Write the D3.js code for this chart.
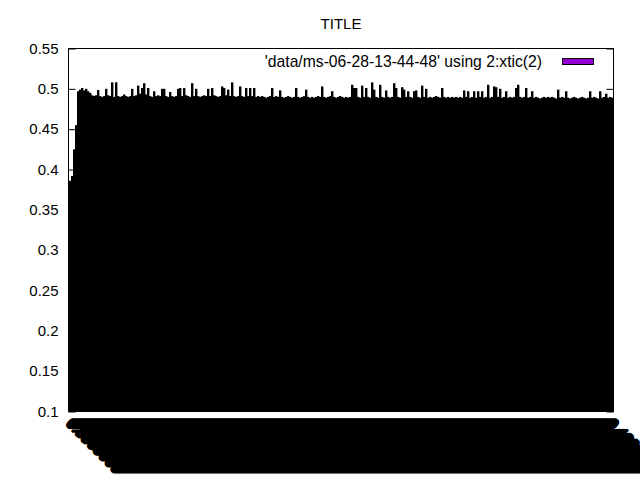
<!DOCTYPE html>
<html>
<head>
<meta charset="utf-8">
<script src="https://cdn.jsdelivr.net/npm/d3@7"></script>
<style>
  body { margin: 0; background: #fff; }
  svg { display: block; font-family: "Liberation Sans", Arial, sans-serif; }
</style>
</head>
<body>
<svg id="chart" width="640" height="480"></svg>
<script>
"use strict";

const title = "TITLE";
const seriesName = "'data/ms-06-28-13-44-48' using 2:xtic(2)";
const yTicks = [0.1, 0.15, 0.2, 0.25, 0.3, 0.35, 0.4, 0.45, 0.5, 0.55];

// column 2 of the data file
const values = [
  0.386, 0.392, 0.425, 0.455, 0.497, 0.499, 0.501, 0.498, 0.500, 0.497, 0.495, 0.492, 0.491, 0.492, 0.4985, 0.491,
  0.490, 0.491, 0.500, 0.492, 0.491, 0.508, 0.490, 0.508, 0.491, 0.490, 0.491, 0.493, 0.491, 0.490, 0.491, 0.500,
  0.491, 0.492, 0.504, 0.494, 0.501, 0.507, 0.493, 0.501, 0.491, 0.490, 0.497, 0.491, 0.492, 0.491, 0.500, 0.500,
  0.491, 0.490, 0.496, 0.491, 0.490, 0.491, 0.500, 0.501, 0.491, 0.501, 0.492, 0.491, 0.490, 0.507, 0.491, 0.500,
  0.491, 0.490, 0.491, 0.492, 0.491, 0.500, 0.491, 0.501, 0.492, 0.491, 0.490, 0.491, 0.503, 0.501, 0.492, 0.499,
  0.491, 0.508, 0.491, 0.490, 0.491, 0.503, 0.491, 0.490, 0.501, 0.491, 0.501, 0.491, 0.501, 0.490, 0.491, 0.490,
  0.491, 0.490, 0.489, 0.490, 0.491, 0.501, 0.490, 0.491, 0.490, 0.498, 0.490, 0.489, 0.490, 0.491, 0.490, 0.489,
  0.490, 0.501, 0.490, 0.489, 0.490, 0.491, 0.499, 0.490, 0.489, 0.490, 0.489, 0.490, 0.491, 0.490, 0.503, 0.490,
  0.489, 0.490, 0.491, 0.497, 0.490, 0.489, 0.490, 0.491, 0.490, 0.489, 0.490, 0.489, 0.490, 0.505, 0.501, 0.501,
  0.490, 0.489, 0.504, 0.490, 0.501, 0.490, 0.489, 0.508, 0.499, 0.490, 0.489, 0.505, 0.490, 0.489, 0.498, 0.490,
  0.489, 0.490, 0.507, 0.501, 0.490, 0.489, 0.502, 0.499, 0.490, 0.497, 0.490, 0.489, 0.497, 0.498, 0.490, 0.489,
  0.504, 0.490, 0.500, 0.489, 0.490, 0.489, 0.490, 0.491, 0.490, 0.489, 0.501, 0.490, 0.489, 0.490, 0.489, 0.490,
  0.489, 0.490, 0.489, 0.490, 0.489, 0.498, 0.490, 0.497, 0.489, 0.490, 0.497, 0.489, 0.497, 0.490, 0.497, 0.489,
  0.490, 0.505, 0.489, 0.490, 0.503, 0.502, 0.490, 0.500, 0.489, 0.490, 0.497, 0.489, 0.490, 0.489, 0.490, 0.501,
  0.505, 0.490, 0.489, 0.490, 0.501, 0.489, 0.490, 0.497, 0.489, 0.490, 0.489, 0.488, 0.489, 0.490, 0.489, 0.490,
  0.489, 0.490, 0.489, 0.488, 0.499, 0.489, 0.490, 0.489, 0.497, 0.489, 0.488, 0.489, 0.490, 0.489, 0.488, 0.489,
  0.490, 0.489, 0.488, 0.489, 0.497, 0.489, 0.490, 0.489, 0.488, 0.497, 0.489, 0.490, 0.494, 0.489, 0.490, 0.489,
];

const svg = d3.select("#chart");
const plotLeft = 68.5, plotRight = 613.5, plotTop = 48.5, plotBottom = 411.5;
const fontSize = 15;

svg.append("rect").attr("width", 640).attr("height", 480).attr("fill", "#fff");

const x = d3
  .scaleBand()
  .domain(d3.range(values.length))
  .range([plotLeft + 0.5, plotRight - 0.5])
  .padding(0);

const y = d3.scaleLinear().domain([0.1, 0.55]).range([plotBottom, plotTop]);

// bars (gnuplot boxes: borders are so dense they read as solid black)
svg
  .append("g")
  .selectAll("rect")
  .data(values)
  .enter()
  .append("rect")
  .attr("x", (d, i) => x(i))
  .attr("width", x.bandwidth() + 0.4)
  .attr("y", (d) => y(d))
  .attr("height", (d) => y(0.1) - y(d))
  .attr("fill", "#000");

// x labels: xtic(2), every bar gets its own value rotated; they pile up into a solid mass
const fmt = d3.format(".7f");
const xAxis = svg
  .append("g")
  .attr("transform", `translate(0, ${plotBottom})`)
  .call(d3.axisBottom(x).tickSize(0).tickFormat((i) => fmt(values[i])));
xAxis.select(".domain").remove();
xAxis
  .selectAll("text")
  .attr("y", 0)
  .attr("dy", 0)
  .attr("text-anchor", "start")
  .attr("dominant-baseline", "central")
  .attr("transform", "translate(-1, 9) rotate(45)")
  .attr("font-size", fontSize)
  .attr("font-family", "Liberation Sans, Arial, sans-serif")
  .attr("fill", "#000")
  .attr("stroke", "#000")
  .attr("stroke-width", 1.6);

// y axis, ticks pointing inward
const yAxis = svg
  .append("g")
  .attr("transform", `translate(${plotLeft}, 0)`)
  .call(d3.axisLeft(y).tickValues(yTicks).tickSize(-7).tickPadding(10).tickFormat(d3.format("")));
yAxis.select(".domain").remove();
yAxis.selectAll("line").attr("stroke", "#000");
yAxis
  .selectAll("text")
  .attr("font-size", fontSize)
  .attr("font-family", "Liberation Sans, Arial, sans-serif")
  .attr("fill", "#000");

// mirrored ticks on the right
const yAxisR = svg
  .append("g")
  .attr("transform", `translate(${plotRight}, 0)`)
  .call(d3.axisRight(y).tickValues(yTicks).tickSize(-7).tickFormat(""));
yAxisR.select(".domain").remove();
yAxisR.selectAll("line").attr("stroke", "#000");

// border
svg
  .append("rect")
  .attr("x", plotLeft)
  .attr("y", plotTop)
  .attr("width", plotRight - plotLeft)
  .attr("height", plotBottom - plotTop)
  .attr("fill", "none")
  .attr("stroke", "#000")
  .attr("stroke-width", 1);

// title
svg
  .append("text")
  .attr("x", (plotLeft + plotRight) / 2)
  .attr("y", 29)
  .attr("text-anchor", "middle")
  .attr("font-size", fontSize)
  .attr("fill", "#000")
  .text(title);

// key
svg
  .append("text")
  .attr("x", 542)
  .attr("y", 67)
  .attr("text-anchor", "end")
  .attr("font-size", 15.7)
  .attr("fill", "#000")
  .text(seriesName);

svg
  .append("rect")
  .attr("x", 562.5)
  .attr("y", 58.5)
  .attr("width", 31)
  .attr("height", 6)
  .attr("fill", "#9400d3")
  .attr("stroke", "#000")
  .attr("stroke-width", 1);
</script>
</body>
</html>
